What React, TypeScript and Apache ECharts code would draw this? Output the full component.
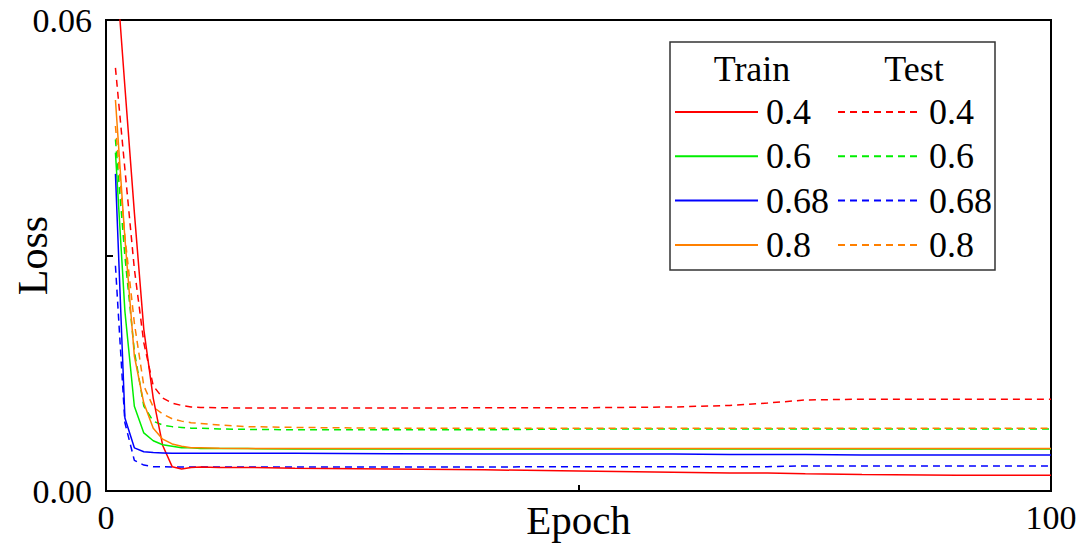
import React, { useEffect, useRef } from "react";
import * as echarts from "echarts";

const epochs = [1, 2, 3, 4, 5, 6, 7, 8, 9, 10, 12, 15, 20, 30, 40, 50, 60, 66, 70, 74, 80, 90, 100];

const train04 = [0.0678, 0.0515, 0.0355, 0.0206, 0.0118, 0.0058, 0.0031, 0.0028, 0.003, 0.00305, 0.003, 0.003, 0.0029, 0.0028, 0.0027, 0.00255, 0.0024, 0.0023, 0.0023, 0.0022, 0.0021, 0.002, 0.002];
const test04 = [0.0539, 0.041, 0.0283, 0.0189, 0.0134, 0.01185, 0.0112, 0.0109, 0.0107, 0.01065, 0.0106, 0.01057, 0.01057, 0.01057, 0.0106, 0.0106, 0.0107, 0.0109, 0.0112, 0.0116, 0.0117, 0.0117, 0.0117];
const train06 = [0.0431, 0.0229, 0.0108, 0.0074, 0.0064, 0.0059, 0.0057, 0.0055, 0.0055, 0.0054, 0.0054, 0.0054, 0.00535, 0.00535, 0.00535, 0.00535, 0.00535, 0.00535, 0.00535, 0.00535, 0.00535, 0.00535, 0.00535];
const test06 = [0.0448, 0.0299, 0.0178, 0.0108, 0.0089, 0.0084, 0.0082, 0.0081, 0.008, 0.008, 0.0079, 0.00785, 0.0078, 0.0078, 0.0078, 0.0079, 0.0079, 0.0079, 0.0079, 0.0079, 0.0079, 0.0079, 0.0079];
const train068 = [0.0404, 0.0093, 0.0055, 0.005, 0.0049, 0.00485, 0.0048, 0.0048, 0.0048, 0.0048, 0.0048, 0.0048, 0.0048, 0.00475, 0.0047, 0.0047, 0.0047, 0.00465, 0.00465, 0.00465, 0.0046, 0.0046, 0.0046];
const test068 = [0.0287, 0.0087, 0.0039, 0.0033, 0.0031, 0.0031, 0.00306, 0.00306, 0.00306, 0.00306, 0.00306, 0.00306, 0.00306, 0.00306, 0.00306, 0.0031, 0.0031, 0.0031, 0.0031, 0.0032, 0.0032, 0.0032, 0.0032];
const train08 = [0.0498, 0.0322, 0.0172, 0.0112, 0.008, 0.0066, 0.006, 0.0057, 0.0055, 0.0055, 0.00545, 0.0054, 0.0054, 0.0054, 0.0054, 0.0054, 0.0054, 0.0054, 0.0054, 0.0054, 0.0054, 0.0054, 0.0054];
const test08 = [0.0465, 0.0325, 0.0214, 0.0134, 0.0107, 0.0098, 0.0092, 0.0089, 0.0087, 0.0086, 0.0084, 0.0082, 0.0081, 0.008, 0.008, 0.008, 0.008, 0.008, 0.008, 0.008, 0.008, 0.008, 0.008];

const ratios = ["0.4", "0.6", "0.68", "0.8"];
const colors = ["#ff0000", "#00ee00", "#0000ff", "#ff8000"];
const trainSets = [train04, train06, train068, train08];
const testSets = [test04, test06, test068, test08];

const xTicks = [0, 50, 100];
const yTicks = [0, 0.03, 0.06];

const FONT = "'Liberation Serif', 'Times New Roman', serif";

export default function App() {
  const ref = useRef<HTMLDivElement>(null);
  useEffect(() => {
    if (!ref.current) return;
    const chart = echarts.init(ref.current, null, { renderer: "svg" });
    const series: any[] = [];
    ratios.forEach((r, i) => {
      series.push({
        name: "Train " + r,
        type: "line",
        symbol: "none",
        data: epochs.map((e, k) => [e, trainSets[i][k]]),
        lineStyle: { color: colors[i], width: 1.5, type: "solid" },
        itemStyle: { color: colors[i] },
        z: 3,
      });
    });
    ratios.forEach((r, i) => {
      series.push({
        name: "Test " + r,
        type: "line",
        symbol: "none",
        data: epochs.map((e, k) => [e, testSets[i][k]]),
        lineStyle: { color: colors[i], width: 1.5, type: [7, 5] },
        itemStyle: { color: colors[i] },
        z: 2,
      });
    });
    const legendCommon = {
      orient: "vertical",
      top: 94,
      padding: 0,
      itemWidth: 83,
      itemHeight: 14,
      itemGap: 8.3,
      selectedMode: false,
      itemStyle: { opacity: 0 },
      formatter: (n: string) => n.split(" ")[1],
      textStyle: { fontFamily: FONT, fontSize: 36, color: "#000", padding: [0, 0, 0, 3] },
    };
    chart.setOption({
      animation: false,
      backgroundColor: "#fff",
      grid: {
        left: 106,
        right: 29,
        top: 20,
        bottom: 59,
        show: true,
        containLabel: false,
        outerBoundsMode: "none",
        borderColor: "#000",
        borderWidth: 2,
        backgroundColor: "transparent",
      },
      xAxis: {
        type: "value",
        min: xTicks[0],
        max: xTicks[xTicks.length - 1],
        interval: 50,
        name: "Epoch",
        nameLocation: "middle",
        nameGap: 8,
        nameMoveOverlap: false,
        nameTextStyle: { fontFamily: FONT, fontSize: 41, color: "#000" },
        axisLine: { lineStyle: { color: "#000", width: 2 } },
        axisTick: { inside: true, length: 6, lineStyle: { color: "#000", width: 2 } },
        axisLabel: {
          fontFamily: FONT,
          fontSize: 34,
          color: "#000",
          margin: 9,
          formatter: (v: number) => (v === xTicks[1] ? "" : String(v)),
        },
        splitLine: { show: false },
      },
      yAxis: {
        type: "value",
        min: yTicks[0],
        max: yTicks[yTicks.length - 1],
        interval: 0.03,
        name: "Loss",
        nameLocation: "middle",
        nameGap: 52,
        nameMoveOverlap: false,
        nameTextStyle: { fontFamily: FONT, fontSize: 42, color: "#000" },
        axisLine: { lineStyle: { color: "#000", width: 2 } },
        axisTick: { inside: true, length: 7, lineStyle: { color: "#000", width: 2 } },
        axisLabel: {
          fontFamily: FONT,
          fontSize: 34,
          color: "#000",
          margin: 14,
          formatter: (v: number) => (Math.abs(v - yTicks[1]) < 1e-9 ? "" : v.toFixed(2)),
        },
        splitLine: { show: false },
      },
      legend: [
        { ...legendCommon, left: 674, data: ratios.map((r) => "Train " + r) },
        { ...legendCommon, left: 837, data: ratios.map((r) => "Test " + r) },
      ],
      graphic: [
        {
          type: "rect",
          shape: { x: 670, y: 42, width: 325, height: 228 },
          style: { fill: "none", stroke: "#333", lineWidth: 1.5 },
          z: 10,
        },
        {
          type: "text",
          x: 752,
          y: 69,
          style: { text: "Train", font: `36px ${FONT}`, fill: "#000", align: "center", verticalAlign: "middle" },
          z: 10,
        },
        {
          type: "text",
          x: 914,
          y: 69,
          style: { text: "Test", font: `36px ${FONT}`, fill: "#000", align: "center", verticalAlign: "middle" },
          z: 10,
        },
      ],
      series,
    });
    return () => chart.dispose();
  }, []);
  return (
    <div
      ref={ref}
      style={{ position: "fixed", left: 0, top: 0, width: 1080, height: 550, background: "#fff" }}
    />
  );
}
